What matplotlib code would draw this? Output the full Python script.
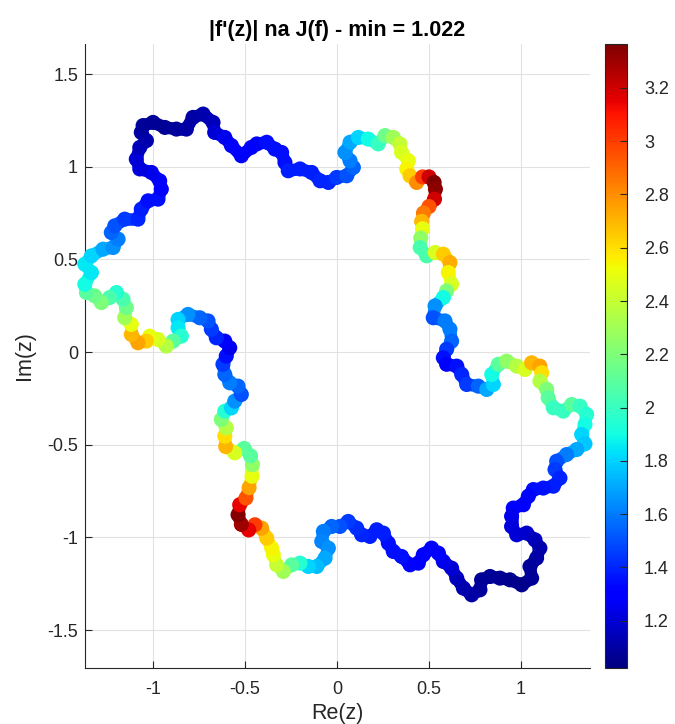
import numpy as np
import matplotlib
matplotlib.use("Agg")
import matplotlib.pyplot as plt
from matplotlib.collections import LineCollection

plt.rcParams["font.family"] = ["Liberation Sans", "DejaVu Sans"]
plt.rcParams["axes.unicode_minus"] = False

#%% points on J(f), traced clockwise, and |f'(z)| at each point
re_z = [
    -1.371, -1.335, -1.272, -1.217, -1.190, -1.227, -1.208, -1.154, -1.082, -1.064,
    -1.027, -0.973, -0.955, -0.964, -1.009, -1.072, -1.091, -1.072, -1.036, -1.064,
    -1.054, -1.000, -0.936, -0.873, -0.819, -0.783, -0.728, -0.674, -0.665, -0.610,
    -0.574, -0.520, -0.466,
    -0.436, -0.382, -0.337, -0.301, -0.283, -0.265, -0.201, -0.138, -0.092, -0.047,
    -0.002, 0.053, 0.089, 0.071, 0.043, 0.071, 0.116, 0.170, 0.224, 0.261,
    0.306, 0.342, 0.351, 0.388, 0.379, 0.397, 0.433, 0.465,
    0.500, 0.528, 0.535, 0.530, 0.500, 0.470, 0.460, 0.465, 0.455, 0.452,
    0.487, 0.533, 0.578, 0.614, 0.605,
    0.623, 0.596, 0.578, 0.533, 0.523, 0.587, 0.614, 0.623, 0.596, 0.578,
    0.596, 0.651, 0.678, 0.705, 0.768, 0.814, 0.850, 0.841, 0.877, 0.922,
    0.977, 1.022, 1.058, 1.103, 1.113, 1.103, 1.140, 1.148, 1.176, 1.230,
    1.276, 1.321, 1.357, 1.348, 1.330, 1.348,
    1.303, 1.248, 1.194, 1.185, 1.212, 1.176, 1.121, 1.067, 1.040, 1.013,
    0.958, 0.949, 0.949, 0.977, 1.031, 1.076, 1.103, 1.085, 1.049, 1.058,
    1.004, 0.940, 0.886, 0.832, 0.786, 0.777, 0.732, 0.687, 0.651, 0.623,
    0.578, 0.551, 0.514, 0.469,
    0.442, 0.397, 0.351, 0.306, 0.279, 0.252, 0.216, 0.179, 0.134, 0.107,
    0.061, 0.016, -0.029, -0.074, -0.083, -0.047, -0.065, -0.110, -0.156, -0.201,
    -0.246, -0.292, -0.328, -0.346, -0.355, -0.382, -0.410, -0.446,
    -0.480, -0.520, -0.538, -0.529, -0.495, -0.478, -0.462, -0.460, -0.470, -0.505,
    -0.556, -0.605,
    -0.610, -0.602, -0.629, -0.610, -0.574, -0.556, -0.520, -0.538, -0.583, -0.610,
    -0.620, -0.602, -0.583, -0.610, -0.656, -0.683, -0.701, -0.746, -0.810, -0.864,
    -0.864, -0.846, -0.891, -0.928, -0.973, -1.018, -1.036, -1.082, -1.118, -1.118,
    -1.154, -1.145, -1.163, -1.199, -1.236, -1.281, -1.317, -1.362, -1.371, -1.335,
]
im_z = [
    0.474, 0.519, 0.555, 0.564, 0.609, 0.645, 0.681, 0.717, 0.717, 0.771,
    0.816, 0.825, 0.879, 0.924, 0.969, 0.988, 1.041, 1.104, 1.141, 1.185,
    1.222, 1.239, 1.212, 1.203, 1.203, 1.266, 1.284, 1.239, 1.185, 1.158,
    1.114, 1.059, 1.104,
    1.123, 1.132, 1.095, 1.077, 1.023, 0.978, 0.988, 0.969, 0.924, 0.915,
    0.942, 0.951, 0.996, 1.032, 1.077, 1.132, 1.158, 1.149, 1.123, 1.168,
    1.158, 1.123, 1.077, 1.032, 0.988, 0.951, 0.915, 0.945,
    0.945, 0.915, 0.879, 0.825, 0.785, 0.750, 0.705, 0.665, 0.615, 0.564,
    0.519, 0.537, 0.528, 0.483, 0.429,
    0.366, 0.330, 0.294, 0.249, 0.185, 0.168, 0.123, 0.059, 0.015, -0.031,
    -0.066, -0.076, -0.121, -0.175, -0.184, -0.202, -0.175, -0.121, -0.066, -0.049,
    -0.076, -0.094, -0.058, -0.076, -0.112, -0.157, -0.202, -0.247, -0.301, -0.319,
    -0.283, -0.292, -0.337, -0.391, -0.445, -0.495,
    -0.526, -0.553, -0.589, -0.634, -0.680, -0.724, -0.734, -0.742, -0.778, -0.824,
    -0.842, -0.886, -0.941, -0.986, -0.977, -1.013, -1.058, -1.112, -1.157, -1.220,
    -1.256, -1.229, -1.220, -1.211, -1.229, -1.283, -1.310, -1.274, -1.220, -1.166,
    -1.130, -1.085, -1.058, -1.094,
    -1.139, -1.148, -1.103, -1.076, -1.031, -0.977, -0.959, -0.995, -0.986, -0.950,
    -0.914, -0.941, -0.941, -0.968, -1.022, -1.058, -1.112, -1.157, -1.157, -1.139,
    -1.148, -1.184, -1.148, -1.094, -1.058, -1.004, -0.950, -0.932,
    -0.960, -0.930, -0.878, -0.824, -0.788, -0.732, -0.670, -0.608, -0.560, -0.520,
    -0.544, -0.510,
    -0.454, -0.409, -0.364, -0.319, -0.301, -0.265, -0.229, -0.184, -0.166, -0.121,
    -0.066, -0.022, 0.023, 0.059, 0.077, 0.123, 0.168, 0.185, 0.203, 0.176,
    0.131, 0.086, 0.059, 0.032, 0.068, 0.086, 0.059, 0.050, 0.095, 0.149,
    0.185, 0.240, 0.285, 0.321, 0.294, 0.267, 0.303, 0.321, 0.366, 0.429,
]
dfz = [
    1.85, 1.80, 1.70, 1.65, 1.60, 1.55, 1.50, 1.45, 1.40, 1.38,
    1.35, 1.35, 1.30, 1.28, 1.25, 1.22, 1.20, 1.15, 1.12, 1.10,
    1.08, 1.07, 1.07, 1.08, 1.10, 1.10, 1.12, 1.15, 1.20, 1.25,
    1.28, 1.30, 1.30,
    1.32, 1.35, 1.35, 1.35, 1.35, 1.38, 1.38, 1.38, 1.40, 1.40,
    1.45, 1.50, 1.55, 1.60, 1.65, 1.70, 1.80, 1.90, 2.00, 2.15,
    2.30, 2.40, 2.45, 2.50, 2.55, 2.65, 2.80, 3.00,
    3.20, 3.36, 3.33, 3.20, 2.95, 2.85, 2.70, 2.50, 2.25, 2.05,
    2.05, 2.45, 2.65, 2.72, 2.55,
    2.45, 2.20, 1.90, 1.65, 1.50, 1.60, 1.60, 1.55, 1.45, 1.35,
    1.30, 1.35, 1.40, 1.45, 1.55, 1.70, 1.80, 1.90, 2.10, 2.25,
    2.35, 2.45, 2.70, 2.75, 2.60, 2.35, 2.20, 2.10, 2.00, 2.00,
    2.10, 2.00, 1.95, 1.90, 1.80, 1.78,
    1.70, 1.60, 1.50, 1.45, 1.40, 1.38, 1.36, 1.35, 1.33, 1.30,
    1.28, 1.25, 1.22, 1.20, 1.18, 1.15, 1.12, 1.10, 1.08, 1.07,
    1.05, 1.05, 1.06, 1.07, 1.07, 1.08, 1.10, 1.12, 1.15, 1.20,
    1.25, 1.28, 1.30, 1.30,
    1.30, 1.32, 1.35, 1.35, 1.35, 1.38, 1.38, 1.38, 1.40, 1.42,
    1.45, 1.50, 1.55, 1.60, 1.62, 1.65, 1.70, 1.75, 1.80, 1.95,
    2.10, 2.30, 2.40, 2.50, 2.55, 2.65, 2.75, 3.00,
    3.15, 3.30, 3.35, 3.15, 2.95, 2.75, 2.50, 2.25, 2.10, 2.10,
    2.45, 2.70,
    2.60, 2.35, 2.20, 1.95, 1.80, 1.65, 1.50, 1.55, 1.60, 1.55,
    1.45, 1.35, 1.25, 1.30, 1.40, 1.45, 1.50, 1.55, 1.65, 1.80,
    1.85, 1.95, 2.10, 2.35, 2.45, 2.50, 2.65, 2.75, 2.70, 2.50,
    2.30, 2.15, 2.05, 1.95, 2.05, 2.20, 2.15, 2.10, 1.90, 1.85,
]
d_min, d_max = 1.022, 3.365

x = np.array(re_z)
y = np.array(im_z)
v = np.array(dfz)

txt = "#262626"
fig = plt.figure(figsize=(6.75, 7.24), dpi=100)
ax = fig.add_axes([0.1259, 0.0773, 0.7481, 0.8619])
cax = fig.add_axes([0.8963, 0.0773, 0.033, 0.8619])

norm = plt.Normalize(d_min, d_max)
cmap = plt.get_cmap("jet")

# closed curve: thick segments underneath, filled markers on top
xc = np.append(x, x[0])
yc = np.append(y, y[0])
vc = np.append(v, v[0])
segs = np.stack([np.column_stack([xc[:-1], yc[:-1]]),
                 np.column_stack([xc[1:], yc[1:]])], axis=1)
lc = LineCollection(segs, cmap=cmap, norm=norm, linewidths=9,
                    capstyle="round", zorder=2, clip_on=False)
lc.set_array(0.5 * (vc[:-1] + vc[1:]))
ax.add_collection(lc)
sc = ax.scatter(x, y, c=v, cmap=cmap, norm=norm, s=118, linewidths=0,
                zorder=3, clip_on=False)

ax.set_xlim(-1.37, 1.375)
ax.set_ylim(-1.705, 1.662)
ax.set_xticks([-1, -0.5, 0, 0.5, 1])
ax.set_yticks([-1.5, -1, -0.5, 0, 0.5, 1, 1.5])
ax.xaxis.set_major_formatter(plt.FuncFormatter(lambda t, p: f"{t:g}"))
ax.yaxis.set_major_formatter(plt.FuncFormatter(lambda t, p: f"{t:g}"))
ax.grid(True, color="#e2e2e2", linewidth=0.8)
ax.set_axisbelow(True)
for s in ["top", "right"]:
    ax.spines[s].set_visible(False)
for s in ["left", "bottom"]:
    ax.spines[s].set_color(txt)
    ax.spines[s].set_linewidth(0.8)
ax.tick_params(direction="in", length=5, width=0.8, colors=txt, labelsize=13)
ax.tick_params(axis="x", pad=9)
ax.tick_params(axis="y", pad=5)
ax.set_xlabel("Re(z)", fontsize=15.5, color=txt, labelpad=4)
ax.set_ylabel("Im(z)", fontsize=15.5, color=txt, labelpad=9)
ax.set_title("|f'(z)| na J(f) - min = 1.022", fontsize=15.5, fontweight="bold",
             color="black", pad=6)

cb = fig.colorbar(sc, cax=cax)
cb.set_ticks(np.arange(1.2, 3.21, 0.2))
cb.ax.yaxis.set_major_formatter(plt.FuncFormatter(lambda t, p: f"{t:.1f}".rstrip("0").rstrip(".")))
cb.ax.tick_params(direction="in", length=5, width=0.8, colors=txt, labelsize=13, pad=12)
cb.outline.set_edgecolor(txt)
cb.outline.set_linewidth(0.8)

fig.savefig("out.png", dpi=100)
